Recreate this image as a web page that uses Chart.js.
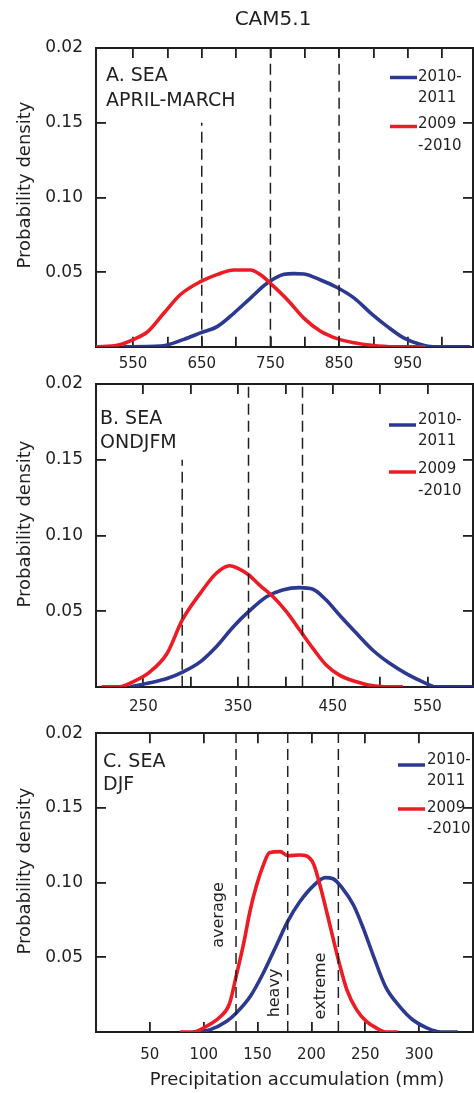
<!DOCTYPE html>
<html>
<head>
<meta charset="utf-8">
<title>CAM5.1</title>
<script src="https://cdn.jsdelivr.net/npm/chart.js@4.4.0/dist/chart.umd.min.js"></script>
<style>
  html, body { margin: 0; padding: 0; background: #fff; }
  #wrap { position: relative; width: 474px; height: 1093px; overflow: hidden; }
  #wrap canvas { position: absolute; left: 0; }
</style>
</head>
<body>
<div id="wrap">
  <canvas id="grafico-a" width="474" height="380" style="top:0px"></canvas>
  <canvas id="grafico-b" width="474" height="370" style="top:350px"></canvas>
  <canvas id="grafico-c" width="474" height="393" style="top:700px"></canvas>
</div>
<script>
// y axis (same in all three panels); the top label really reads "0.02"
var tickY = [0, 0.05, 0.10, 0.15, 0.20];
var labelY = ['', '0.05', '0.10', '0.15', '0.02'];

// A. SEA, APRIL-MARCH
var ticksA = [550, 600, 650, 700, 750, 800, 850, 900, 950, 1000];
var labelsA = [550, 650, 750, 850, 950];
var cutsA = [650, 750, 850];
var cutTopA = [0.15, 0.20, 0.20];
var blueXA = [536, 590, 624, 648, 673, 697, 721, 745, 770, 784, 799, 823, 847, 872, 896, 920, 944, 969, 987, 1041];
var blueYA = [0, 0.0005, 0.005, 0.0093, 0.0137, 0.0226, 0.0326, 0.0425, 0.0485, 0.049, 0.0487, 0.0447, 0.0397, 0.0326, 0.0226, 0.0137, 0.006, 0.0015, 0, 0];
var redXA = [496, 527, 551, 571, 595, 619, 648, 673, 697, 721, 736, 750, 775, 799, 823, 847, 872, 897, 930, 976];
var redYA = [0, 0.001, 0.005, 0.010, 0.0226, 0.035, 0.0436, 0.0485, 0.0514, 0.0514, 0.048, 0.0425, 0.0314, 0.019, 0.0104, 0.0055, 0.0027, 0.001, 0, 0];

// B. SEA, ONDJFM
var ticksB = [250, 300, 350, 400, 450, 500, 550];
var labelsB = [250, 350, 450, 550];
var cutsB = [291, 361, 418];
var cutTopB = [0.15, 0.20, 0.20];
var blueXB = [236, 257, 275, 292, 310, 327, 345, 361, 380, 397, 415, 429, 443, 457, 475, 492, 510, 527, 545, 559, 598];
var blueYB = [0, 0.0027, 0.0055, 0.0099, 0.0165, 0.0265, 0.0397, 0.0496, 0.0595, 0.064, 0.0655, 0.0644, 0.0573, 0.0474, 0.0353, 0.0243, 0.0155, 0.0089, 0.0033, 0, 0];
var redXB = [206, 225, 239, 257, 275, 291, 310, 327, 341, 352, 361, 373, 387, 401, 415, 429, 443, 457, 475, 489, 505, 524];
var redYB = [0, 0, 0.0033, 0.0099, 0.022, 0.044, 0.0617, 0.075, 0.080, 0.0776, 0.074, 0.067, 0.0595, 0.0496, 0.0375, 0.0254, 0.0144, 0.0077, 0.0033, 0.001, 0, 0];

// C. SEA, DJF
var ticksC = [50, 100, 150, 200, 250, 300];
var labelsC = [50, 100, 150, 200, 250, 300];
var cutsC = [130, 178, 225];
var cutTopC = [0.20, 0.20, 0.20];
var cutNamesC = ['average', 'heavy', 'extreme'];
var blueXC = [90, 106, 121, 130, 143, 155, 168, 178, 189, 202, 213, 220, 229, 239, 248, 257, 269, 282, 294, 307, 320, 336];
var blueYC = [0, 0.0016, 0.007, 0.0126, 0.0236, 0.039, 0.0588, 0.074, 0.087, 0.098, 0.1033, 0.1026, 0.096, 0.085, 0.0697, 0.052, 0.030, 0.017, 0.0082, 0.0028, 0, 0];
var redXC = [78, 90, 103, 115, 124, 130, 137, 143, 149, 155, 161, 171, 178, 189, 195, 202, 208, 214, 220, 226, 233, 242, 251, 260, 269, 280];
var redYC = [0, 0, 0.004, 0.010, 0.019, 0.037, 0.059, 0.081, 0.098, 0.111, 0.120, 0.1207, 0.118, 0.1185, 0.118, 0.1125, 0.098, 0.081, 0.063, 0.0456, 0.028, 0.0148, 0.0071, 0.0028, 0, 0];

var BLUE = '#2b3990';
var RED = '#ed1c24';
var INK = '#1f1f1f';
var FONT = '"DejaVu Sans", Arial, sans-serif';
var TICK_LEN = 10;

function pairs(xs, ys) {
    return xs.map(function (x, i) { return {x: x, y: ys[i]}; });
}

// page coordinates for text; each panel subtracts its canvas top
var panels = [
    {
        id: 'grafico-a', top: 0, padTop: 48, xHeight: 31, tickPad: 8,
        min: 496, max: 1045, xTicks: ticksA, labels: labelsA,
        cuts: cutsA, cutTop: cutTopA,
        blue: pairs(blueXA, blueYA), red: pairs(redXA, redYA),
        name: ['A. SEA', 'APRIL-MARCH'], nameX: 106, nameY: [76, 101],
        legend: {x1: 390, x2: 417, tx: 418, blue: 77.5, blueTxt: [77, 98], red: 126.5, redTxt: [124, 146]},
        yTitle: 185, title: 'CAM5.1'
    },
    {
        id: 'grafico-b', top: 350, padTop: 34, xHeight: 33, tickPad: 11,
        min: 200, max: 598, xTicks: ticksB, labels: labelsB,
        cuts: cutsB, cutTop: cutTopB,
        blue: pairs(blueXB, blueYB), red: pairs(redXB, redYB),
        name: ['B. SEA', 'ONDJFM'], nameX: 100, nameY: [419, 443],
        legend: {x1: 389, x2: 416, tx: 418, blue: 425, blueTxt: [420, 441], red: 472, redTxt: [469, 491]},
        yTitle: 524
    },
    {
        id: 'grafico-c', top: 700, padTop: 29, xHeight: 61, tickPad: 14,
        min: 0, max: 350, xTicks: ticksC, labels: labelsC,
        cuts: cutsC, cutTop: cutTopC, cutNames: cutNamesC,
        cutNameAt: [{dx: -17, y: 915}, {dx: -13, y: 993}, {dx: -18, y: 986}],
        blue: pairs(blueXC, blueYC), red: pairs(redXC, redYC),
        name: ['C. SEA', 'DJF'], nameX: 103, nameY: [762, 785],
        legend: {x1: 398, x2: 425, tx: 427, blue: 765, blueTxt: [760, 781], red: 809, redTxt: [808, 829]},
        yTitle: 871, xTitle: 'Precipitation accumulation (mm)'
    }
];

function line(ctx, x1, y1, x2, y2) {
    ctx.beginPath();
    ctx.moveTo(x1, y1);
    ctx.lineTo(x2, y2);
    ctx.stroke();
}

function vertText(ctx, text, x, y) {
    ctx.save();
    ctx.translate(x, y);
    ctx.rotate(-Math.PI / 2);
    ctx.textAlign = 'center';
    ctx.textBaseline = 'middle';
    ctx.fillText(text, 0, 0);
    ctx.restore();
}

// negative tick length makes Chart.js draw the tick marks inside the plot
var tickGrid = {
    display: true, drawOnChartArea: false, drawTicks: true,
    tickLength: -TICK_LEN, tickColor: INK, tickWidth: 1.8,
    color: INK, lineWidth: 1.8
};
var frameBorder = {display: true, color: INK, width: 2};

// panel name, legend and axis titles
function textPlugin(p) {
    return {
        id: 'panelText',
        afterDraw: function (chart) {
            var ctx = chart.ctx, off = p.top, lg = p.legend;
            ctx.save();
            ctx.setLineDash([]);
            ctx.fillStyle = INK;
            ctx.textBaseline = 'middle';
            ctx.textAlign = 'left';

            ctx.font = '19px ' + FONT;
            ctx.fillText(p.name[0], p.nameX, p.nameY[0] - off);
            ctx.fillText(p.name[1], p.nameX, p.nameY[1] - off);

            // legend: short line plus a two-line period label
            ctx.lineWidth = 3.5;
            ctx.strokeStyle = BLUE;
            line(ctx, lg.x1, lg.blue - off, lg.x2, lg.blue - off);
            ctx.strokeStyle = RED;
            line(ctx, lg.x1, lg.red - off, lg.x2, lg.red - off);
            ctx.font = '15px ' + FONT;
            ctx.fillText('2010-', lg.tx, lg.blueTxt[0] - off);
            ctx.fillText('2011', lg.tx, lg.blueTxt[1] - off);
            ctx.fillText('2009', lg.tx, lg.redTxt[0] - off);
            ctx.fillText('-2010', lg.tx, lg.redTxt[1] - off);

            ctx.font = '18px ' + FONT;
            vertText(ctx, 'Probability density', 25, p.yTitle - off);

            if (p.cutNames) {
                ctx.font = '16px ' + FONT;
                p.cutNames.forEach(function (t, k) {
                    var x = chart.scales.x.getPixelForValue(p.cuts[k]) + p.cutNameAt[k].dx;
                    vertText(ctx, t, x, p.cutNameAt[k].y - off);
                });
            }
            if (p.title) {
                ctx.font = '20px ' + FONT;
                ctx.textAlign = 'center';
                ctx.fillText(p.title, 273, 20 - off);
            }
            if (p.xTitle) {
                ctx.font = '18px ' + FONT;
                ctx.textAlign = 'center';
                ctx.textBaseline = 'alphabetic';
                ctx.fillText(p.xTitle, 297, 1085 - off);
            }
            ctx.restore();
        }
    };
}

function drawPanel(p) {
    var datasets = [];
    // threshold lines first so they sit above the curves
    p.cuts.forEach(function (v, i) {
        datasets.push({
            data: [{x: v, y: 0}, {x: v, y: p.cutTop[i]}],
            borderColor: INK, borderWidth: 1.5, borderDash: [11, 6],
            pointRadius: 0, fill: false
        });
    });
    datasets.push({
        label: '2009-2010', data: p.red, borderColor: RED, borderWidth: 3.6,
        pointRadius: 0, fill: false, cubicInterpolationMode: 'monotone'
    });
    datasets.push({
        label: '2010-2011', data: p.blue, borderColor: BLUE, borderWidth: 3.6,
        pointRadius: 0, fill: false, cubicInterpolationMode: 'monotone'
    });

    function setX(s) { s.ticks = p.xTicks.map(function (v) { return {value: v}; }); }
    function setY(s) { s.ticks = tickY.map(function (v) { return {value: v}; }); }
    function setYInner(s) { s.ticks = tickY.slice(1, -1).map(function (v) { return {value: v}; }); }

    new Chart(document.getElementById(p.id), {
        type: 'line',
        data: {datasets: datasets},
        options: {
            responsive: false,
            animation: false,
            events: [],
            layout: {padding: {top: p.padTop, right: 1, left: 0, bottom: 0}},
            plugins: {legend: {display: false}, tooltip: {enabled: false}},
            scales: {
                x: {
                    type: 'linear', position: 'bottom', min: p.min, max: p.max,
                    afterBuildTicks: setX,
                    afterFit: function (s) { s.height = p.xHeight; },
                    grid: tickGrid, border: frameBorder,
                    ticks: {
                        autoSkip: false, maxRotation: 0, padding: p.tickPad + TICK_LEN,
                        color: INK, font: {family: FONT, size: 15},
                        callback: function (v) { return p.labels.indexOf(v) >= 0 ? String(v) : ''; }
                    }
                },
                xTop: {
                    type: 'linear', position: 'top', display: true, min: p.min, max: p.max,
                    afterBuildTicks: setX,
                    afterFit: function (s) { s.height = 0; },
                    grid: tickGrid, border: frameBorder,
                    ticks: {display: false}
                },
                y: {
                    type: 'linear', position: 'left', min: 0, max: 0.2,
                    afterBuildTicks: setY,
                    afterFit: function (s) { s.width = 96; },
                    grid: tickGrid, border: frameBorder,
                    ticks: {
                        autoSkip: false, padding: 13 + TICK_LEN,
                        color: INK, font: {family: FONT, size: 17},
                        callback: function (v) {
                            for (var i = 0; i < tickY.length; i++) {
                                if (Math.abs(tickY[i] - v) < 1e-9) return labelY[i];
                            }
                            return '';
                        }
                    }
                },
                yRight: {
                    type: 'linear', position: 'right', display: true, min: 0, max: 0.2,
                    afterBuildTicks: setYInner,
                    afterFit: function (s) { s.width = 0; },
                    grid: tickGrid, border: frameBorder,
                    ticks: {display: false}
                }
            }
        },
        plugins: [textPlugin(p)]
    });
}

panels.forEach(drawPanel);
</script>
</body>
</html>
